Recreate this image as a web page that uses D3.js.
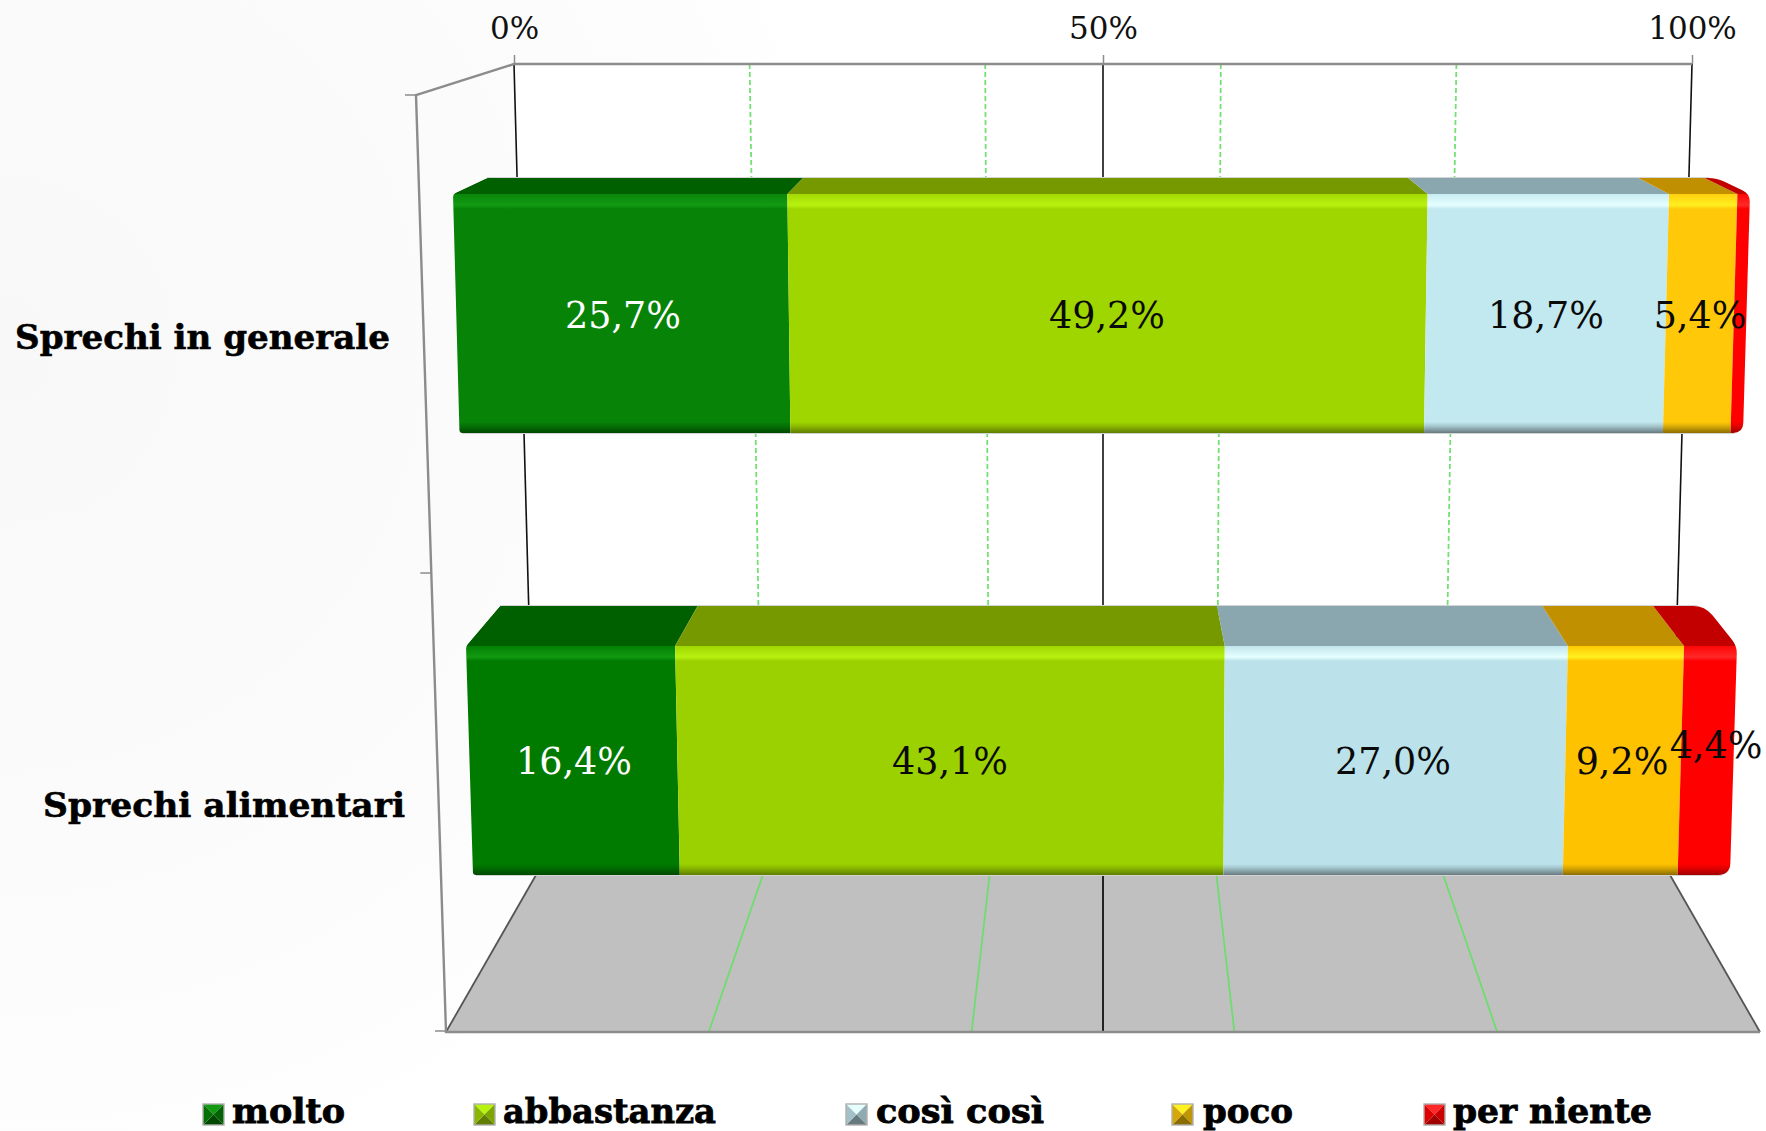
<!DOCTYPE html>
<html><head><meta charset="utf-8">
<script src="https://cdnjs.cloudflare.com/ajax/libs/d3/7.8.5/d3.min.js"></script>
<style>html,body{margin:0;padding:0;background:#fff;overflow:hidden}svg{display:block}text{font-family:"DejaVu Serif",serif}</style>
</head><body><div id="c"></div>
<script>
const categories = ["Sprechi in generale", "Sprechi alimentari"];
const seriesNames = ["molto", "abbastanza", "così così", "poco", "per niente"];
const valuesGenerale = [25.7, 49.2, 18.7, 5.4, 1.0];
const valuesAlimentari = [16.4, 43.1, 27.0, 9.2, 4.4];
const labelsGenerale = ["25,7%", "49,2%", "18,7%", "5,4%", null];
const labelsAlimentari = ["16,4%", "43,1%", "27,0%", "9,2%", "4,4%"];
const axisTicks = [0, 50, 100];
const gridTicks = [0, 20, 40, 50, 60, 80, 100];

const W = 1766, H = 1131;
const baseCols = [["#078308", "#a0d600", "#c2e8f0", "#ffc90a", "#ff0000"],
                  ["#007b00", "#9bd100", "#bbe2ea", "#ffc200", "#ff0000"]];
const hiCol   = ["#129a12", "#b8f210", "#e6ffff", "#fff020", "#ff2828"];
const topCol  = ["#006000", "#769900", "#8aa6ae", "#c09000", "#c20000"];
const lowCol  = ["#004800", "#5f7d00", "#66797f", "#8a6c00", "#a00000"];
const legendGeom = [[203,232,113],[474,503,213],[846,876,168],[1172,1203,90],[1424,1453,199]];

const svg = d3.select("#c").append("svg").attr("width", W).attr("height", H);
const defs = svg.append("defs");

const bg = defs.append("radialGradient").attr("id","bg").attr("gradientUnits","userSpaceOnUse")
  .attr("cx",0).attr("cy",350).attr("r",880);
bg.append("stop").attr("offset",0).attr("stop-color","#f8f8f8");
bg.append("stop").attr("offset",0.75).attr("stop-color","#fcfcfc");
bg.append("stop").attr("offset",1).attr("stop-color","#ffffff");
svg.append("rect").attr("width",W).attr("height",H).attr("fill","url(#bg)");

const wallTop  = d3.scaleLinear().domain([0,100]).range([514,1692]);
const wallBot  = d3.scaleLinear().domain([0,100]).range([536,1670]);
const floorFront = d3.scaleLinear().domain([0,100]).range([446,1760]);
const yTop = 64, yBack = 875, yFront = 1032;

svg.append("polygon").attr("fill","#fff")
  .attr("points",[[wallTop(0),yTop],[wallTop(100),yTop],[wallBot(100),yBack],[wallBot(0),yBack]].join(" "));
svg.append("polygon").attr("fill","#c0c0c0")
  .attr("points",[[wallBot(0),yBack],[wallBot(100),yBack],[floorFront(100),yFront],[floorFront(0),yFront]].join(" "));

const isBlack = t => t % 50 === 0;
svg.append("g").selectAll("line").data(gridTicks).join("line")
  .attr("x1",d=>wallTop(d)).attr("y1",yTop).attr("x2",d=>wallBot(d)).attr("y2",yBack)
  .attr("stroke",d=>isBlack(d)?"#111":"#74e074").attr("stroke-width",d=>isBlack(d)?1.6:1.8)
  .attr("stroke-dasharray",d=>isBlack(d)?null:"5,3");
svg.append("g").selectAll("line").data(gridTicks).join("line")
  .attr("x1",d=>wallBot(d)).attr("y1",yBack).attr("x2",d=>floorFront(d)).attr("y2",yFront)
  .attr("stroke",d=>(d===50)?"#111":(isBlack(d)?"#555":"#6fdc6f")).attr("stroke-width",1.8);

const frame = svg.append("g").attr("fill","none").attr("stroke","#8c8c8c").attr("stroke-width",2.4);
frame.append("path").attr("d",`M${wallTop(100)},${yTop}L${wallTop(0)},${yTop}L416,95L446,1032L${floorFront(100)},${yFront}`);
const catY = d3.scaleLinear().domain([0,1,2]).range([95,573,1031]);
frame.selectAll("line").data([0,1,2]).join("line")
  .attr("x1",d=>416+(catY(d)-95)*30/937-11).attr("x2",d=>416+(catY(d)-95)*30/937)
  .attr("y1",d=>catY(d)).attr("y2",d=>catY(d)).attr("stroke-width",1.5);

const axis = d3.axisTop(d3.scaleLinear().domain([0,100]).range([514,1692]))
  .tickValues(axisTicks).tickFormat(d=>d+"%").tickSize(9).tickPadding(16);
const ag = svg.append("g").attr("transform",`translate(0,${yTop})`).call(axis);
ag.select(".domain").remove();
ag.selectAll("line").attr("stroke","#8c8c8c").attr("stroke-width",1.5);
ag.selectAll("text").attr("font-size",31).attr("fill","#111").style("font-family",'"DejaVu Serif",serif');

const rows = [
 {name:categories[0], vals:valuesGenerale, labs:labelsGenerale, backY:178, topY:194, botY:433,
  back:[487,1717], front:[453,1750], bot:[459.5,1743], ly:[328,328,328,328,0], cx:[623,1107,1546,1700,0], rad:[1,9,8,10,3,3], cap:[15,338,375]},
 {name:categories[1], vals:valuesAlimentari, labs:labelsAlimentari, backY:606, topY:646, botY:875,
  back:[500,1705], front:[466,1737], bot:[473,1730], ly:[774,774,774,774,758], cx:[574,950,1393,1622,1716], rad:[1,12,8,12,3,3], cap:[43,806,362]}
];

// The bars bulge slightly in the reference's perspective, so the front edges use a piecewise scale.
const bulgeDomain = [0, 25, 75, 95, 100];
const bulgeOffset = [0, 1, 3.2, 2, 0];
const bulged = ext => {
  const base = d3.scaleLinear().domain([0,100]).range(ext);
  return d3.scaleLinear().domain(bulgeDomain).range(bulgeDomain.map((d,i)=>base(d)+bulgeOffset[i]));
};

function rounded(pts, rad){
  const p = d3.path(), n = pts.length;
  pts.forEach((c,i)=>{
    const a = pts[(i+n-1)%n], b = pts[(i+1)%n], r = rad[i];
    const da = Math.hypot(a[0]-c[0],a[1]-c[1]), db = Math.hypot(b[0]-c[0],b[1]-c[1]);
    const s=[c[0]+(a[0]-c[0])*r/da, c[1]+(a[1]-c[1])*r/da], e=[c[0]+(b[0]-c[0])*r/db, c[1]+(b[1]-c[1])*r/db];
    if(i===0) p.moveTo(s[0],s[1]); else p.lineTo(s[0],s[1]);
    p.quadraticCurveTo(c[0],c[1],e[0],e[1]);
  });
  p.closePath();
  return p.toString();
}

rows.forEach((r,ri)=>{
  const baseCol = baseCols[ri];
  const xBack = d3.scaleLinear().domain([0,100]).range(r.back);
  const xFront = bulged(r.front);
  const xBot = bulged(r.bot);
  const outline = [[r.back[0],r.backY],[r.back[1],r.backY],[r.front[1],r.topY],[r.bot[1],r.botY],[r.bot[0],r.botY],[r.front[0],r.topY]];
  defs.append("clipPath").attr("id","clip"+ri).append("path").attr("d",rounded(outline,r.rad));
  const h = r.botY-r.topY;
  baseCol.forEach((c,i)=>{
    const g = defs.append("linearGradient").attr("id",`g${ri}_${i}`).attr("gradientUnits","userSpaceOnUse")
      .attr("x1",0).attr("x2",0).attr("y1",r.topY).attr("y2",r.botY);
    [[0,d3.interpolateRgb(c,hiCol[i])(0.15)],[6/h,d3.interpolateRgb(c,hiCol[i])(0.6)],[11/h,hiCol[i]],[15/h,c],[(h-11)/h,c],[(h-7)/h,d3.interpolateRgb(c,lowCol[i])(0.3)],[1,lowCol[i]]]
      .forEach(s=>g.append("stop").attr("offset",s[0]).attr("stop-color",s[1]));
  });
  const cum = d3.cumsum(r.vals);
  const segs = r.vals.map((v,i)=>({i, a:i?cum[i-1]:0, b:i===r.vals.length-1?100:cum[i]}));
  const g = svg.append("g");
  g.append("path").attr("d",`M${r.back[0]},${r.backY-0.5}H${r.back[1]-8}M${r.bot[0]+3},${r.botY+0.5}H${r.bot[1]-8}`)
    .attr("stroke","#d4d4d4").attr("stroke-width",1.2).attr("fill","none");
  const bars = g.append("g").attr("clip-path",`url(#clip${ri})`);
  bars.selectAll("polygon.t").data(segs).join("polygon").attr("class","t")
    .attr("fill",d=>topCol[d.i])
    .attr("points",d=>[[xBack(d.a),r.backY],[xBack(d.b)+(d.b===100?20:0),r.backY],[xFront(d.b)+(d.b===100?20:0),r.topY],[xFront(d.a),r.topY]].join(" "));
  bars.selectAll("polygon.f").data(segs).join("polygon").attr("class","f")
    .attr("fill",d=>`url(#g${ri}_${d.i})`)
    .attr("points",d=>[[xFront(d.a)-(d.a===0?8:0),r.topY],[xFront(d.b)+(d.b===100?20:0),r.topY],[xBot(d.b)+(d.b===100?20:0),r.botY],[xBot(d.a)-(d.a===0?8:0),r.botY]].join(" "));
  g.selectAll("text").data(segs.filter(d=>r.labs[d.i])).join("text")
    .attr("x",d=>r.cx[d.i]).attr("y",d=>r.ly[d.i]).attr("text-anchor","middle")
    .attr("font-size",36.5).attr("fill",d=>d.i===0?"#fff":"#0a0a0a").text(d=>r.labs[d.i]);
  svg.append("text").attr("x",r.cap[0]).attr("y",r.cap[1]+11).attr("font-size",33).attr("font-weight","bold")
    .attr("fill","#000").attr("stroke","#000").attr("stroke-width",0.6)
    .attr("textLength",r.cap[2]).attr("lengthAdjust","spacingAndGlyphs").text(r.name);
});

// Legend
const base0 = baseCols[0];
const lg = svg.append("g").selectAll("g").data(seriesNames).join("g");
lg.each(function(d,i){
  const [ix,tx,tw] = legendGeom[i], s=d3.select(this), y=1104, z=21;
  const c=[ix+z/2,y+z/2];
  const sq=[[ix,y],[ix+z,y],[ix+z,y+z],[ix,y+z]];
  const fills=[hiCol[i], d3.interpolateRgb(base0[i],lowCol[i])(0.55), lowCol[i], d3.interpolateRgb(base0[i],lowCol[i])(0.35)];
  sq.forEach((p,k)=>s.append("polygon").attr("fill",fills[k]).attr("points",[p,sq[(k+1)%4],c].join(" ")));
  s.append("rect").attr("x",ix).attr("y",y).attr("width",z).attr("height",z).attr("fill","none").attr("stroke","#b0b0b0").attr("stroke-width",1.4);
  s.append("text").attr("x",tx).attr("y",1123).attr("font-size",33.5).attr("font-weight","bold")
    .attr("stroke","#000").attr("stroke-width",0.8)
    .attr("textLength",tw).attr("lengthAdjust","spacingAndGlyphs").attr("fill","#000").text(d);
});
</script></body></html>
